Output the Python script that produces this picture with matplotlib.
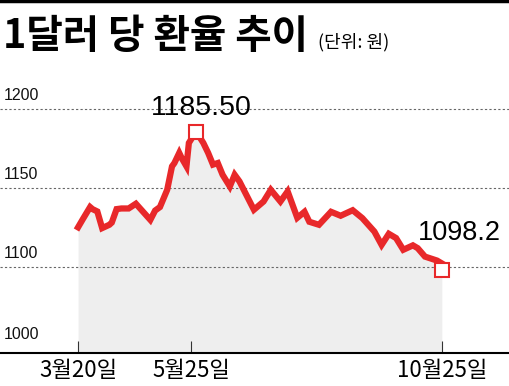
import matplotlib
matplotlib.use("Agg")
import matplotlib.pyplot as plt
from matplotlib.lines import Line2D
from matplotlib import font_manager
import numpy as np

# 1달러 당 환율 (원), 거래일 기준 인덱스
days = [0, 2, 5, 6, 8, 10, 13, 14, 16, 18, 21, 24, 30, 32, 34, 37, 39, 40, 42, 43,
        45, 46, 49, 52, 54, 56, 58, 60, 63, 65, 67, 73, 77, 80, 84, 87, 91, 94, 96,
        100, 105, 109, 114, 118, 123, 126, 129, 132, 135, 139, 141, 144, 149, 151]
rates = [1125, 1130.2, 1137.8, 1136.5, 1135, 1124.5, 1126.6, 1128, 1136.5, 1136.9,
         1136.9, 1139.9, 1129.7, 1135.6, 1137.8, 1148.7, 1163.5, 1165.6, 1172, 1168.8,
         1163.5, 1178.3, 1185.5, 1178.3, 1172, 1164.6, 1165.6, 1158.2, 1150.8, 1158.2,
         1154, 1136.1, 1141.3, 1148.7, 1141.3, 1147.7, 1131, 1134.8, 1128.5, 1126.6,
         1134.8, 1132.3, 1135.8, 1130.8, 1122.3, 1113.9, 1120.9, 1118.2, 1110.8, 1113.6,
         1111.8, 1106.5, 1104, 1102.2]

peak_day, peak_val, peak_txt = 49, 1185.5, "1185.50"
last_day, last_val, last_txt = 151, 1098.2, "1098.2"

tick_days = [0, 47, 151]
tick_labels = ["3월20일", "5월25일", "10월25일"]
grid_vals = [1100, 1150, 1200]
grid_labels = ["1100", "1150", "1200"]
bottom_label = "1000"

names = {f.name for f in font_manager.fontManager.ttflist}
narrow = "Liberation Sans Narrow" if "Liberation Sans Narrow" in names else "Liberation Sans"
num_font = [narrow, "Noto Sans CJK KR"]
kr_font = ["Noto Sans CJK KR", "DejaVu Sans"]

RED = "#e8282a"
ybot = 1045.6

fig = plt.figure(figsize=(5.1, 3.86), dpi=100)
ax = fig.add_axes([0, 0.0855, 1, 0.6865])
ax.set_xlim(-32.4, 179.3)
ax.set_ylim(ybot, 1213)

ax.fill_between(days, rates, ybot, color="#eeeeee", lw=0, zorder=1)
for v, lab in zip(grid_vals, grid_labels):
    ax.axhline(v, color="#666666", lw=0.8, ls=(0, (2, 2)), zorder=2)
    ax.annotate(lab, (0.008, v), xycoords=("axes fraction", "data"),
                xytext=(0, 4), textcoords="offset points",
                ha="left", va="bottom", fontsize=11.5, family=num_font, color="#111111")
ax.text(0.008, 0.04, bottom_label, transform=ax.transAxes, ha="left", va="bottom",
        fontsize=11.5, family=num_font, color="#111111")

ax.plot(days, rates, color=RED, lw=4.5, solid_joinstyle="miter", zorder=3)

for d, v in [(peak_day, peak_val), (last_day, last_val)]:
    ax.plot([d], [v], marker="s", ms=9.5, mfc="white", mec=RED, mew=1.5, zorder=4)

ax.annotate(peak_txt, (peak_day, peak_val), xytext=(5, 24), textcoords="offset pixels",
            ha="center", va="center", fontsize=20.5, family=num_font, color="black")
ax.annotate(last_txt, (last_day, last_val), xytext=(18, 37), textcoords="offset pixels",
            ha="center", va="center", fontsize=19.5, family=num_font, color="black")

for s in ["left", "top", "right"]:
    ax.spines[s].set_visible(False)
ax.spines["bottom"].set_color("black")
ax.spines["bottom"].set_linewidth(1.5)
ax.set_yticks([])
ax.set_xticks(tick_days)
ax.set_xticklabels(tick_labels, family=kr_font, fontsize=16)
ax.tick_params(axis="x", direction="in", length=9, width=0.8, color="#333333", pad=4)

fig.text(0.006, 0.905, "1달러 당 환율 추이", ha="left", va="center", fontsize=28.5,
         family=kr_font, weight="black")
fig.text(0.623, 0.891, "(단위: 원)", ha="left", va="center", fontsize=13, family=kr_font)
fig.add_artist(Line2D([0, 1], [0.997, 0.997], color="black", lw=2.5, transform=fig.transFigure))

fig.savefig("out.png", dpi=100)
